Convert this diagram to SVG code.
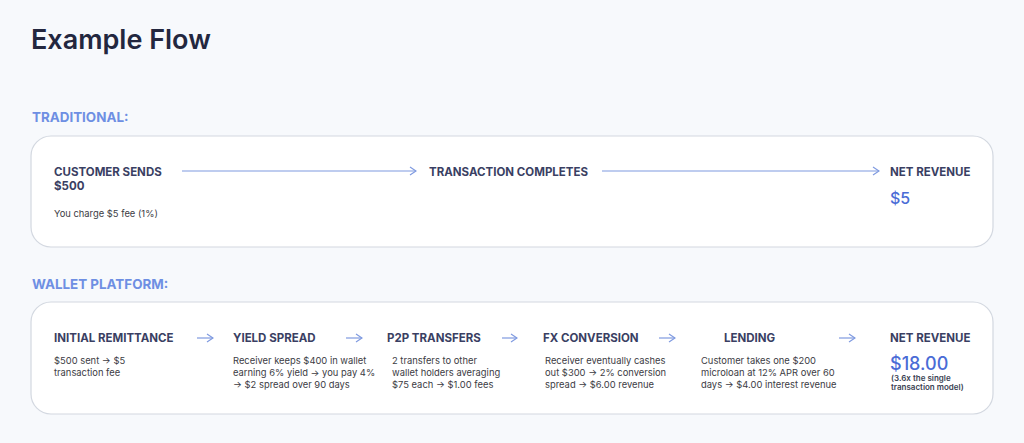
<svg xmlns="http://www.w3.org/2000/svg" width="1024" height="443" viewBox="0 0 1024 443">
<defs>
<style>
.bg{fill:#f7f9fc}
.box{fill:#ffffff;stroke:#d3d8e0;stroke-width:1.2}
.title{font-family:Inter,"Liberation Sans",sans-serif;font-size:27px;font-weight:600;fill:#23273f}
.sec{font-family:Inter,"Liberation Sans",sans-serif;font-size:13.4px;font-weight:700;fill:#6e8fe3}
.hd{font-family:Inter,"Liberation Sans",sans-serif;font-size:11.5px;font-weight:700;fill:#3a3f63}
.ds{font-family:Inter,"Liberation Sans",sans-serif;font-size:9.4px;font-weight:400;fill:#3c3c44}
.big{font-family:Inter,"Liberation Sans",sans-serif;font-weight:500;fill:#4a6cd6}
.note{font-family:Inter,"Liberation Sans",sans-serif;font-size:8px;font-weight:600;fill:#3a3f53}
.ln{stroke:#7f9ae0;stroke-width:1.2;fill:none}
</style>
<marker id="ah" viewBox="0 0 10 10" refX="9" refY="5" markerWidth="10" markerHeight="10" markerUnits="userSpaceOnUse" orient="auto">
<path d="M3,1 L9,5 L3,9" fill="none" stroke="#7f9ae0" stroke-width="1.2"/>
</marker>
</defs>
<rect class="bg" x="0" y="0" width="1024" height="443"/>
<text class="title" x="31" y="49">Example Flow</text>
<text class="sec" x="32" y="122">TRADITIONAL:</text>
<rect class="box" x="31" y="136" width="962" height="111" rx="20"/>
<text class="sec" x="32" y="289">WALLET PLATFORM:</text>
<rect class="box" x="31" y="302" width="962" height="112" rx="20"/>

<g id="t-customer">
<text class="hd" x="54" y="176">CUSTOMER SENDS</text>
<text class="hd" x="54" y="190">$500</text>
<text class="ds" x="54" y="217">You charge $5 fee (1%)</text>
</g>
<g id="t-complete">
<text class="hd" x="429" y="176">TRANSACTION COMPLETES</text>
</g>
<g id="t-net">
<text class="hd" x="890" y="176">NET REVENUE</text>
<text class="big" x="890" y="204" font-size="16">$5</text>
</g>

<g id="w-initial">
<text class="hd" x="54" y="342">INITIAL REMITTANCE</text>
<text class="ds" x="54" y="364">$500 sent → $5</text>
<text class="ds" x="54" y="376">transaction fee</text>
</g>
<g id="w-yield">
<text class="hd" x="233" y="342">YIELD SPREAD</text>
<text class="ds" x="233" y="364">Receiver keeps $400 in wallet</text>
<text class="ds" x="233" y="376">earning 6% yield → you pay 4%</text>
<text class="ds" x="233" y="388">→ $2 spread over 90 days</text>
</g>
<g id="w-p2p">
<text class="hd" x="387" y="342">P2P TRANSFERS</text>
<text class="ds" x="392" y="364">2 transfers to other</text>
<text class="ds" x="392" y="376">wallet holders averaging</text>
<text class="ds" x="392" y="388">$75 each → $1.00 fees</text>
</g>
<g id="w-fx">
<text class="hd" x="543" y="342">FX CONVERSION</text>
<text class="ds" x="545" y="364">Receiver eventually cashes</text>
<text class="ds" x="545" y="376">out $300 → 2% conversion</text>
<text class="ds" x="545" y="388">spread → $6.00 revenue</text>
</g>
<g id="w-lending">
<text class="hd" x="724" y="342">LENDING</text>
<text class="ds" x="701" y="364">Customer takes one $200</text>
<text class="ds" x="701" y="376">microloan at 12% APR over 60</text>
<text class="ds" x="701" y="388">days → $4.00 interest revenue</text>
</g>
<g id="w-net">
<text class="hd" x="890" y="342">NET REVENUE</text>
<text class="big" x="890" y="370" font-size="18">$18.00</text>
<text class="note" x="891" y="381">(3.6x the single</text>
<text class="note" x="891" y="390">transaction model)</text>
</g>

<g id="connectors">
<line class="ln" x1="182" y1="171" x2="416" y2="171" marker-end="url(#ah)"/>
<line class="ln" x1="602" y1="171" x2="879" y2="171" marker-end="url(#ah)"/>
<line class="ln" x1="197" y1="338" x2="213" y2="338" marker-end="url(#ah)"/>
<line class="ln" x1="346" y1="338" x2="362" y2="338" marker-end="url(#ah)"/>
<line class="ln" x1="502" y1="338" x2="517" y2="338" marker-end="url(#ah)"/>
<line class="ln" x1="659" y1="338" x2="675" y2="338" marker-end="url(#ah)"/>
<line class="ln" x1="839" y1="338" x2="855" y2="338" marker-end="url(#ah)"/>
</g>
</svg>
